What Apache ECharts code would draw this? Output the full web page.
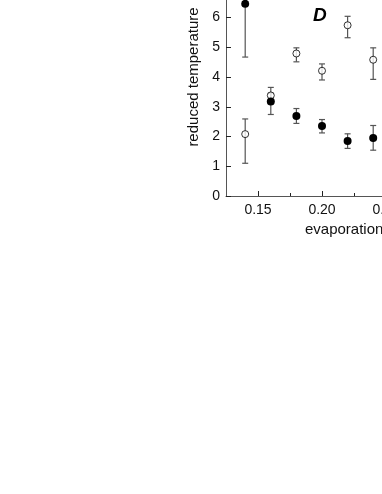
<!DOCTYPE html>
<html>
<head>
<meta charset="utf-8">
<script src="https://cdn.jsdelivr.net/npm/echarts@6/dist/echarts.min.js"></script>
<style>
  html, body { margin: 0; padding: 0; background: #fff; }
  #myChart { width: 382px; height: 494px; }
</style>
</head>
<body>
<div id="myChart"></div>
<script>
// evaporation values (x)
var xVals = [0.14, 0.16, 0.18, 0.20, 0.22, 0.24];
// open circles
var openVals = [2.08, 3.38, 4.79, 4.21, 5.74, 4.58];
var openLow = [1.10, 3.10, 4.51, 3.90, 5.32, 3.92];
var openHigh = [2.59, 3.65, 4.98, 4.44, 6.04, 4.98];
// filled circles
var filledVals = [6.46, 3.18, 2.69, 2.35, 1.85, 1.95];
var filledLow = [4.67, 2.74, 2.44, 2.12, 1.60, 1.54];
var filledHigh = [8.25, 3.45, 2.94, 2.57, 2.09, 2.37];
// tick labels
var xMajorTicks = [0.15, 0.20, 0.25];
var xMinorTicks = [0.175, 0.225, 0.275];
var yTicks = [0, 1, 2, 3, 4, 5, 6, 7];

var font = "'Liberation Sans', Arial, sans-serif";

function pairs(xs, ys) {
  var out = [];
  for (var i = 0; i < xs.length; i++) out.push([xs[i], ys[i]]);
  return out;
}
function errData(xs, lo, hi) {
  var out = [];
  for (var i = 0; i < xs.length; i++) out.push([xs[i], lo[i], hi[i]]);
  return out;
}
function renderErr(params, api) {
  var top = api.coord([api.value(0), api.value(2)]);
  var bot = api.coord([api.value(0), api.value(1)]);
  var st = { stroke: '#555', lineWidth: 1.2 };
  return {
    type: 'group',
    children: [
      { type: 'line', shape: { x1: top[0], y1: top[1], x2: bot[0], y2: bot[1] }, style: st },
      { type: 'line', shape: { x1: top[0] - 3, y1: top[1], x2: top[0] + 3, y2: top[1] }, style: st },
      { type: 'line', shape: { x1: bot[0] - 3, y1: bot[1], x2: bot[0] + 3, y2: bot[1] }, style: st }
    ]
  };
}

var myChart = echarts.init(document.getElementById('myChart'));
myChart.setOption({
  animation: false,
  textStyle: { fontFamily: font },
  grid: {
    left: 226,
    right: -36,
    top: -42,
    bottom: 298,
    containLabel: false,
    outerBoundsMode: 'none'
  },
  xAxis: [
    {
      type: 'value',
      min: 0.125,
      max: 0.275,
      splitLine: { show: false },
      axisLine: { lineStyle: { color: '#555', width: 1 } },
      axisTick: { inside: true, length: 5, customValues: xMajorTicks, lineStyle: { color: '#222' } },
      axisLabel: {
        customValues: xMajorTicks,
        margin: 7,
        color: '#111',
        fontSize: 14,
        fontFamily: font,
        formatter: function (v) { return v.toFixed(2); }
      }
    },
    {
      type: 'value',
      min: 0.125,
      max: 0.275,
      position: 'bottom',
      splitLine: { show: false },
      axisLine: { show: false },
      axisTick: { inside: true, length: 3, customValues: xMinorTicks, lineStyle: { color: '#222' } },
      axisLabel: { show: false }
    }
  ],
  yAxis: {
    type: 'value',
    min: 0,
    max: 8,
    interval: 1,
    name: 'reduced temperature',
    nameLocation: 'middle',
    nameGap: 23,
    nameTextStyle: { fontSize: 15, color: '#111', fontFamily: font },
    splitLine: { show: false },
    axisLine: { show: true, lineStyle: { color: '#555', width: 1 } },
    axisTick: { inside: true, length: 5, customValues: yTicks, lineStyle: { color: '#222' } },
    axisLabel: { customValues: yTicks, margin: 6, color: '#111', fontSize: 14, fontFamily: font }
  },
  graphic: [
    {
      type: 'text', left: 305, top: 222,
      style: { text: 'evaporation', fontSize: 15, fill: '#111', fontFamily: font }
    },
    {
      type: 'text', left: 313, top: 6,
      style: { text: 'D', fontSize: 19, fontWeight: 'bold', fontStyle: 'italic', fill: '#000', fontFamily: font }
    }
  ],
  series: [
    {
      name: 'open err', type: 'custom', renderItem: renderErr,
      data: errData(xVals, openLow, openHigh), encode: { x: 0, y: [1, 2] }, z: 1
    },
    {
      name: 'filled err', type: 'custom', renderItem: renderErr,
      data: errData(xVals, filledLow, filledHigh), encode: { x: 0, y: [1, 2] }, z: 1
    },
    {
      name: 'open', type: 'scatter', symbol: 'circle', symbolSize: 7,
      itemStyle: { color: '#fff', borderColor: '#000', borderWidth: 1 },
      data: pairs(xVals, openVals), z: 3
    },
    {
      name: 'filled', type: 'scatter', symbol: 'circle', symbolSize: 8,
      itemStyle: { color: '#000', opacity: 1 },
      data: pairs(xVals, filledVals), z: 4
    }
  ]
});
</script>
</body>
</html>
